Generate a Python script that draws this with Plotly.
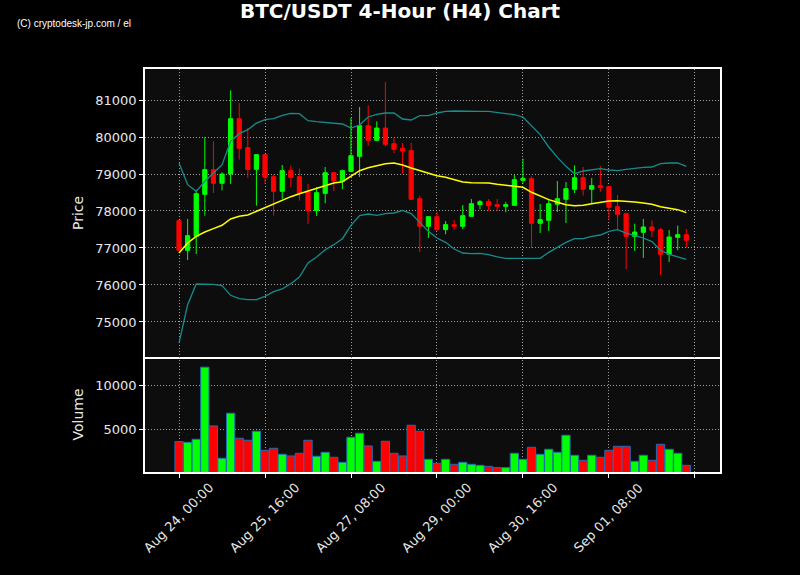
import pandas as pd
import plotly.graph_objects as go
from plotly.subplots import make_subplots

# ---- data ----
start_time = "2025-08-24 00:00"
n_candles = 60

open_ = [77739, 76937, 77315, 78450, 79117, 78748, 79000, 80495, 79712, 79126,
         79523, 78928, 78532, 79090, 78928, 78505, 78009, 78477, 79036, 78802,
         79072, 79477, 80306, 79910, 80243, 79820, 79694, 79631, 78333, 77586,
         77847, 77495, 77631, 77586, 77856, 78171, 78252, 78171, 78126, 78153,
         78829, 78874, 77667, 77748, 78180, 78315, 78586, 78901, 78586, 78685,
         78658, 78117, 77928, 77315, 77423, 77568, 77495, 76829, 77288, 77360]
high = [77760, 77784, 78577, 80000, 79883, 79045, 81261, 80919, 80243, 79523,
        79540, 78982, 79243, 79225, 79144, 78730, 78649, 79189, 79050, 79117,
        80514, 80811, 80856, 80423, 81486, 80000, 79838, 79838, 78414, 77847,
        77982, 77730, 77757, 78162, 78324, 78297, 78324, 78324, 78243, 78982,
        79414, 78937, 78189, 78306, 78811, 78784, 79234, 79189, 78892, 79216,
        78680, 78432, 77955, 77658, 77784, 77748, 77541, 77486, 77604, 77514]
low = [76920, 76676, 76838, 77874, 78486, 78559, 78730, 79387, 78892, 78144,
       78739, 77874, 78324, 78649, 78279, 77649, 77865, 78207, 78541, 78595,
       79050, 78919, 79766, 79883, 79748, 79568, 79009, 78300, 76892, 77270,
       77470, 77369, 77486, 77514, 77840, 78045, 78009, 77991, 77964, 78140,
       78739, 77000, 77405, 77459, 77973, 77676, 78486, 78414, 78216, 78514,
       77748, 77514, 76432, 76919, 76730, 77297, 76270, 76622, 76937, 77009]
close = [76937, 77333, 78468, 79117, 78748, 79000, 80495, 79694, 79126, 79523,
         78910, 78532, 79090, 78910, 78477, 78009, 78495, 79036, 78811, 79090,
         79495, 80306, 79910, 80243, 79802, 79667, 79622, 78315, 77586, 77847,
         77495, 77631, 77586, 77874, 78198, 78252, 78144, 78126, 78171, 78847,
         78883, 77667, 77766, 78198, 78333, 78604, 78901, 78586, 78685, 78640,
         78099, 77910, 77315, 77432, 77568, 77477, 76829, 77297, 77360, 77207]
volume = [3598, 3523, 3864, 12045, 5379, 1705, 6818, 3977, 3750, 4773,
          2614, 2841, 2159, 1970, 2273, 3750, 1932, 2386, 1818, 1250,
          4091, 4545, 3106, 1364, 3636, 2273, 1970, 5455, 4773, 1591,
          1136, 1591, 1023, 1250, 1023, 909, 795, 644, 644, 2273,
          1591, 2955, 2159, 2727, 2386, 4318, 2045, 1477, 2045, 1818,
          2614, 3068, 3068, 1364, 2045, 1477, 3295, 2727, 2273, 909]
sma = [76865, 77135, 77315, 77432, 77523, 77613, 77784, 77856, 77892, 77991,
       78099, 78198, 78288, 78387, 78468, 78541, 78604, 78694, 78757, 78793,
       78937, 79090, 79171, 79234, 79279, 79297, 79243, 79162, 79090, 79018,
       78955, 78910, 78847, 78784, 78766, 78766, 78757, 78721, 78694, 78658,
       78640, 78505, 78396, 78306, 78234, 78171, 78144, 78153, 78198, 78243,
       78270, 78279, 78270, 78243, 78216, 78180, 78117, 78072, 78036, 77955]
bb_upper = [79297, 78712, 78532, 78802, 79027, 79252, 79883, 80090, 80198, 80378,
            80468, 80495, 80586, 80640, 80631, 80441, 80414, 80396, 80360, 80351,
            80243, 80324, 80541, 80613, 80649, 80649, 80486, 80459, 80577, 80577,
            80649, 80694, 80703, 80694, 80694, 80694, 80694, 80667, 80649, 80604,
            80541, 80315, 80063, 79730, 79450, 79207, 79009, 79081, 79117, 79144,
            79108, 79090, 79126, 79162, 79180, 79189, 79279, 79297, 79297, 79207]
bb_lower = [74432, 75468, 76027, 76018, 76018, 75982, 75721, 75631, 75604, 75604,
            75694, 75820, 75892, 76036, 76216, 76595, 76757, 76955, 77090, 77252,
            77613, 77874, 77919, 77883, 77928, 77946, 78018, 77928, 77676, 77450,
            77270, 77153, 76973, 76865, 76847, 76856, 76820, 76757, 76721, 76721,
            76721, 76721, 76721, 76883, 77027, 77153, 77252, 77252, 77315, 77351,
            77450, 77495, 77405, 77333, 77270, 77171, 76937, 76829, 76766, 76694]

tick_times = ["2025-08-24 00:00", "2025-08-25 16:00", "2025-08-27 08:00",
              "2025-08-29 00:00", "2025-08-30 16:00", "2025-09-01 08:00",
              "2025-09-03 00:00"]
tick_labels = ["Aug 24, 00:00", "Aug 25, 16:00", "Aug 27, 08:00",
               "Aug 29, 00:00", "Aug 30, 16:00", "Sep 01, 08:00", ""]
price_ticks = [75000, 76000, 77000, 78000, 79000, 80000, 81000]
volume_ticks = [5000, 10000]

# ---- figure ----
times = pd.date_range(start_time, periods=n_candles, freq="4h")
tick_ts = pd.to_datetime(tick_times)
bar_colors = ["#00ff00" if c >= o else "#ff0000" for o, c in zip(open_, close)]

fig = make_subplots(rows=2, cols=1, shared_xaxes=True, vertical_spacing=0,
                    row_heights=[0.7146, 0.2854])

band_line = dict(color="#178c8c", width=1.3)
fig.add_trace(go.Scatter(x=times, y=bb_upper, mode="lines", line=band_line, hoverinfo="skip"),
              row=1, col=1)
fig.add_trace(go.Scatter(x=times, y=bb_lower, mode="lines", line=band_line, hoverinfo="skip"),
              row=1, col=1)
fig.add_trace(go.Candlestick(x=times, open=open_, high=high, low=low, close=close,
                             increasing=dict(line=dict(color="#00ff00", width=1),
                                             fillcolor="#00ff00"),
                             decreasing=dict(line=dict(color="#ff0000", width=1),
                                             fillcolor="#ff0000"),
                             whiskerwidth=0),
              row=1, col=1)
fig.add_trace(go.Scatter(x=times, y=sma, mode="lines",
                         line=dict(color="#ffff00", width=1.5), hoverinfo="skip"),
              row=1, col=1)
fig.add_trace(go.Bar(x=times, y=volume, marker=dict(color=bar_colors,
                                                   line=dict(color="#1f6fb4", width=1))),
              row=2, col=1)

x_range = [pd.Timestamp("2025-08-23 08:10"), pd.Timestamp("2025-09-03 11:40")]
grid = dict(showgrid=True, gridcolor="#a0a0a0", griddash="1px,2px", gridwidth=1)
axis_common = dict(showline=True, linecolor="white", linewidth=1.5, mirror=True,
                   ticks="outside", ticklen=4, tickcolor="white",
                   tickfont=dict(family="DejaVu Sans", size=13, color="#e8e8e8"),
                   zeroline=False, **grid)

fig.update_xaxes(range=x_range, tickvals=tick_ts, ticktext=tick_labels,
                 rangeslider=dict(visible=False), **axis_common)
fig.update_xaxes(showticklabels=False, ticks="", row=1, col=1)
fig.update_xaxes(showticklabels=False, mirror=False, row=2, col=1)

fig.update_yaxes(range=[74054, 81838], tickvals=price_ticks, tickformat="d",
                 title=dict(text="Price", font=dict(family="DejaVu Sans", size=14, color="#e8e8e8"),
                            standoff=8),
                 domain=[0.2854, 1.0], row=1, col=1, **axis_common)
fig.update_yaxes(range=[150, 13200], tickvals=volume_ticks, tickformat="d",
                 title=dict(text="Volume", font=dict(family="DejaVu Sans", size=14, color="#e8e8e8"),
                            standoff=8),
                 domain=[0.0, 0.2854], row=2, col=1, **axis_common)

# rotated x tick labels, centred under each tick (matplotlib style)
annotations = [dict(text="(C) cryptodesk-jp.com / el", xref="paper", yref="paper",
                    x=-0.226, y=1.1117, xanchor="left", yanchor="middle", showarrow=False,
                    font=dict(family="Liberation Sans Narrow, Liberation Sans", size=10,
                              color="white"))]
for t, lab in zip(tick_ts, tick_labels):
    if lab:
        annotations.append(dict(text=lab, x=t, xref="x2", y=-0.114, yref="paper",
                                xanchor="center", yanchor="middle", textangle=-45,
                                showarrow=False,
                                font=dict(family="DejaVu Sans", size=13, color="#e8e8e8")))

fig.update_layout(
    width=800, height=575,
    paper_bgcolor="#000000", plot_bgcolor="#0d0d0d",
    margin=dict(l=145, r=80, t=69, b=103),
    showlegend=False, bargap=0.04,
    title=dict(text="<b>BTC/USDT 4-Hour (H4) Chart</b>", x=0.5, xanchor="center",
               y=0.981, yanchor="middle",
               font=dict(family="DejaVu Sans", size=20, color="white")),
    annotations=annotations,
)

fig.write_html("out.html", config={"displayModeBar": False},
               post_script="document.body.style.margin='0';document.body.style.background='#000';")
